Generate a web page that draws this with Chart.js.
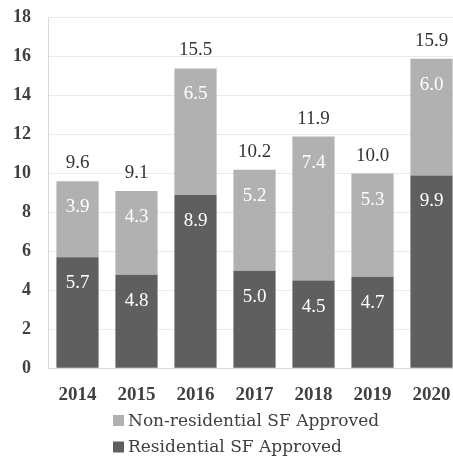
<!DOCTYPE html>
<html>
<head>
<meta charset="utf-8">
<script src="https://cdn.jsdelivr.net/npm/chart.js@4"></script>
<style>
html,body{margin:0;padding:0;background:#fff;overflow:hidden;}
#wrap{position:absolute;left:0;top:-10px;width:461px;height:467px;}
</style>
</head>
<body>
<div id="wrap"><canvas id="c"></canvas></div>
<script>
const categories = ['2014','2015','2016','2017','2018','2019','2020'];
const residential = [5.7, 4.8, 8.9, 5.0, 4.5, 4.7, 9.9];
const nonResidential = [3.9, 4.3, 6.5, 5.2, 7.4, 5.3, 6.0];
const totals = [9.6, 9.1, 15.5, 10.2, 11.9, 10.0, 15.9];
const seriesNames = ['Residential SF Approved', 'Non-residential SF Approved'];
const yMin = 0, yMax = 18, yStep = 2;

const FONT = "'Liberation Serif', serif";
const LFONT = "'DejaVu Serif', serif";
const DARK = '#5f5f5f';
const LIGHT = '#b1b1b1';

const labelPlugin = {
  id: 'labels',
  afterDatasetsDraw(chart) {
    const ctx = chart.ctx;
    ctx.save();
    ctx.textAlign = 'center';
    ctx.textBaseline = 'middle';
    ctx.font = '19px ' + FONT;
    chart.data.datasets.forEach((ds, i) => {
      const meta = chart.getDatasetMeta(i);
      meta.data.forEach((bar, j) => {
        ctx.fillStyle = '#ffffff';
        ctx.fillText(ds.data[j].toFixed(1), bar.x, bar.y + 26);
      });
    });
    const top = chart.getDatasetMeta(chart.data.datasets.length - 1);
    top.data.forEach((bar, j) => {
      ctx.fillStyle = '#333333';
      ctx.fillText(totals[j].toFixed(1), bar.x, bar.y - 18);
    });
    ctx.restore();
  }
};

const legendPlugin = {
  id: 'customLegend',
  afterDraw(chart) {
    const ctx = chart.ctx;
    ctx.save();
    ctx.font = '17px ' + LFONT;
    ctx.textBaseline = 'middle';
    ctx.textAlign = 'left';
    const items = chart.data.datasets.slice().reverse();
    const x0 = 113;
    let y = 430.5;
    items.forEach(ds => {
      ctx.fillStyle = ds.backgroundColor;
      ctx.fillRect(x0, y - 5.5, 11, 11);
      ctx.fillStyle = '#404040';
      ctx.fillText(ds.label, x0 + 15, y + 1);
      y += 26.5;
    });
    ctx.restore();
  }
};

new Chart(document.getElementById('c'), {
  type: 'bar',
  data: {
    labels: categories,
    datasets: [
      { label: seriesNames[0], data: residential, backgroundColor: DARK, stack: 's' },
      { label: seriesNames[1], data: nonResidential, backgroundColor: LIGHT, stack: 's' }
    ]
  },
  options: {
    responsive: true,
    maintainAspectRatio: false,
    animation: false,
    barPercentage: 0.715,
    categoryPercentage: 1,
    layout: { padding: { top: 0, right: 0, bottom: 44, left: 0 } },
    plugins: { legend: { display: false }, tooltip: { enabled: false } },
    scales: {
      x: {
        stacked: true,
        grid: { display: false },
        border: { display: true, color: '#d9d9d9', width: 1 },
        ticks: { font: { family: FONT, size: 19, weight: 'bold' }, color: '#404040', padding: 7, maxRotation: 0 }
      },
      y: {
        stacked: true,
        min: yMin, max: yMax,
        afterFit(scale) { scale.width = 48; },
        grid: { color: '#ebebeb', drawTicks: false },
        border: { display: true, color: '#d9d9d9', width: 1 },
        ticks: { stepSize: yStep, font: { family: FONT, size: 18, weight: 'bold' }, color: '#404040', padding: 17 }
      }
    }
  },
  plugins: [labelPlugin, legendPlugin]
});
</script>
</body>
</html>
